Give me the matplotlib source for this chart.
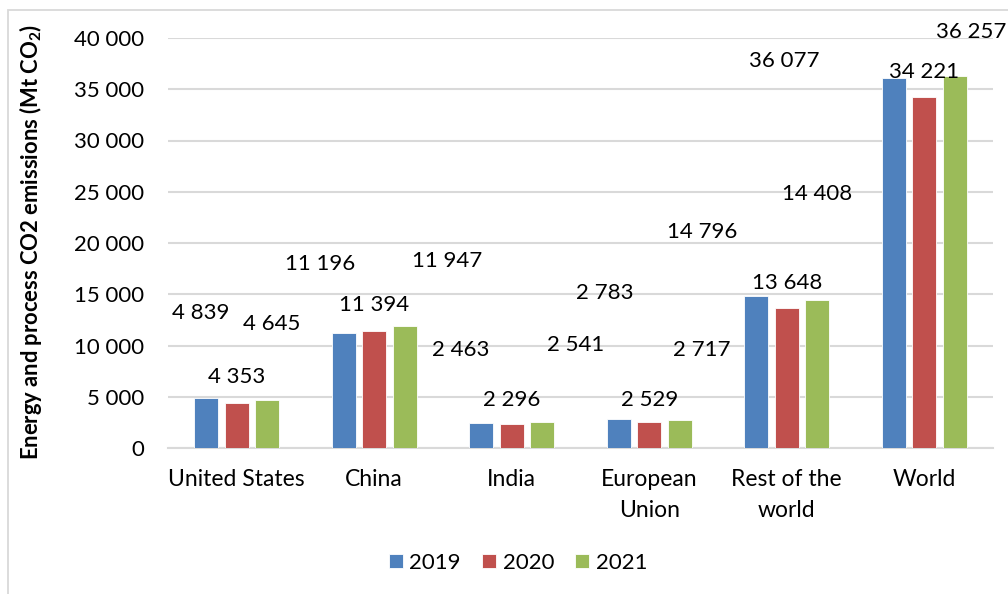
import matplotlib
matplotlib.use("Agg")
import matplotlib.pyplot as plt
from matplotlib.patches import Rectangle
import numpy as np

plt.rcParams['font.family'] = ['Lato', 'DejaVu Sans']
plt.rcParams['mathtext.fontset'] = 'custom'
plt.rcParams['mathtext.rm'] = 'Lato'
plt.rcParams['mathtext.bf'] = 'Lato:bold'

categories = ["United States", "China", "India", "European\nUnion", "Rest of the\nworld", "World"]
years = ["2019", "2020", "2021"]
v2019 = [4839, 11196, 2463, 2783, 14796, 36077]
v2020 = [4353, 11394, 2296, 2529, 13648, 34221]
v2021 = [4645, 11947, 2541, 2717, 14408, 36257]
colors = ["#4F81BD", "#C0504D", "#9BBB59"]
yticks = [0, 5000, 10000, 15000, 20000, 25000, 30000, 35000, 40000]

# data-label anchor positions (category units, value units) as placed in the original
lab2019_pos = [(-0.264, 13171), (0.605, 17951), (1.631, 9561), (2.678, 15122), (3.384, 21073), (3.98, 37756)]
lab2020_pos = [(0.0, 6927), (1.0, 13951), (2.002, 4683), (3.005, 4683), (4.002, 16098), (5.0, 36683)]
lab2021_pos = [(0.256, 12098), (1.529, 18244), (2.467, 10049), (3.384, 9561), (4.22, 24780), (5.34, 40585)]

W, H = 1008, 594
fig = plt.figure(figsize=(W / 100, H / 100), dpi=100)
ax = fig.add_axes([168 / W, 1 - 448 / H, (993 - 168) / W, (448 - 38) / H])

# outer chart border
fig.patches.append(Rectangle((8 / W, -0.1), 1.2, 1 - 10 / H + 0.1, transform=fig.transFigure,
                             fill=False, edgecolor="#D9D9D9", linewidth=1.3))

x = np.arange(len(categories))
bw = 0.175
step = 0.223
series = [v2019, v2020, v2021]
for i, (vals, c, yr) in enumerate(zip(series, colors, years)):
    ax.bar(x + (i - 1) * step, vals, width=bw, color=c, label=yr, zorder=3,
           edgecolor="white", linewidth=0.6)

def fmt(v):
    return f"{v:,}".replace(",", " ")

for vals, pos in zip(series, [lab2019_pos, lab2020_pos, lab2021_pos]):
    for v, (px, py) in zip(vals, pos):
        ax.text(px, py, fmt(v), ha="center", va="center", fontsize=16, color="black",
                zorder=5, clip_on=False)

ax.set_xlim(-0.5, len(categories) - 0.5)
ax.set_ylim(0, 40000)
ax.set_yticks(yticks)
ax.set_yticklabels([fmt(t) for t in yticks], fontsize=16)
ax.set_xticks(x)
ax.set_xticklabels(categories, fontsize=16.5, linespacing=1.6, va="top")
ax.tick_params(axis="both", length=0)
ax.tick_params(axis="y", pad=17)
ax.tick_params(axis="x", pad=15)
ax.grid(axis="y", color="#D9D9D9", linewidth=1.5, zorder=0)
ax.set_axisbelow(True)
for s in ["top", "right", "left"]:
    ax.spines[s].set_visible(False)
ax.spines["bottom"].set_color("#D9D9D9")
ax.spines["bottom"].set_linewidth(1.5)

fig.text(31 / W, 1 - 242 / H, r"Energy and process CO2 emissions (Mt CO$_\mathbf{2}$)",
         rotation=90, ha="center", va="center", fontsize=15.8, fontweight="bold")

leg = fig.legend(loc="center", bbox_to_anchor=(518 / W, 1 - 563 / H), ncol=3, frameon=False,
                 fontsize=16, handlelength=0.63, handleheight=0.63, handletextpad=0.3,
                 columnspacing=0.95)

fig.savefig("out.png", dpi=100)
